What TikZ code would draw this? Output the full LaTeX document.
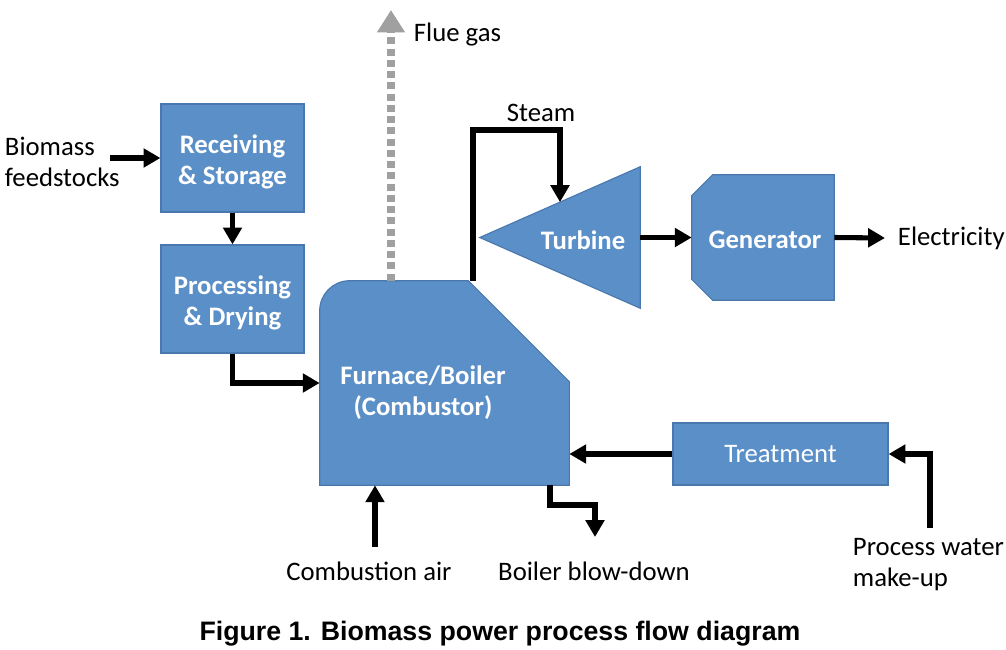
\documentclass[tikz,border=0pt]{standalone}
\usepackage{fontspec}
\setmainfont{Carlito}
\newfontfamily\capfont{Liberation Sans}
\usetikzlibrary{arrows.meta,calc}
\definecolor{unitblue}{HTML}{5B8FC8}
\definecolor{unitedge}{HTML}{4A78AE}
\definecolor{fluegray}{HTML}{A0A0A0}

\begin{document}
\begin{tikzpicture}[x=0.025cm,y=-0.025cm,
    font=\fontsize{19}{22}\selectfont,
    unit/.style={fill=unitblue,draw=unitedge,line width=0.8pt},
    box/.style={unit,text=white,align=center},
    lbl/.style={text=white,align=center,font=\fontsize{19}{22}\selectfont\bfseries},
    frame/.style={inner sep=0pt},
    flow/.style={line width=3.6pt,-{Triangle[length=12pt,width=13pt]}},
    flue/.style={fluegray,line width=5pt,dash pattern=on 5pt off 3pt,
        -{Triangle[length=16pt,width=19pt]}}]
    \useasboundingbox (0,0) rectangle (1006,650);

    % feed line
    \node[box,minimum width=3.575cm,minimum height=2.7cm] (recv) at (232.5,158) {};
    \node[lbl] (recvtext) at (232.5,162) {Receiving\\\& Storage};
    \node[box,minimum width=3.575cm,minimum height=2.7cm] (proc) at (232.5,299) {};
    \node[lbl] (proctext) at (232.5,303) {Processing\\\& Drying};

    % furnace
    \node[frame,minimum width=6.225cm,minimum height=5.1cm] (furnace) at (444.5,383) {};
    \filldraw[unit] (furnace.south west) [rounded corners=0.75cm] -- (furnace.north west)
        [sharp corners] -- ([xshift=-2.525cm]furnace.north east)
        -- ([yshift=-2.525cm]furnace.north east) -- (furnace.south east) -- cycle;
    \node[lbl] (furnacetext) at (423,393) {Furnace/Boiler\\(Combustor)};

    % turbine and generator
    \node[frame,minimum width=4cm,minimum height=3.525cm] (turbine) at (560,237.5) {};
    \filldraw[unit] (turbine.west) -- (turbine.north east) -- (turbine.south east) -- cycle;
    \node[lbl] (turbinetext) at (583,240) {Turbine};
    \node[frame,minimum width=3.55cm,minimum height=3.125cm] (gen) at (763,237.5) {};
    \filldraw[unit] ([xshift=0.525cm]gen.north west) -- (gen.north east) -- (gen.south east)
        -- ([xshift=0.525cm]gen.south west) -- ([yshift=0.525cm]gen.south west)
        -- ([yshift=-0.525cm]gen.north west) -- cycle;
    \node[lbl] (gentext) at (765,240) {Generator};

    \node[box,minimum width=5.375cm,minimum height=1.55cm] (treat) at (780.5,454) {Treatment};

    % texts
    \node[anchor=west,align=left] (biomass) at (0,162) {Biomass\\feedstocks};
    \node[anchor=west] (flue) at (409,35) {Flue gas};
    \node (steam) at (541,113) {Steam};
    \node[anchor=west] (elec) at (893,238) {Electricity};
    \node (air) at (369,571) {Combustion air};
    \node (blow) at (594,571) {Boiler blow-down};
    \node[anchor=west,align=left] (watertext) at (848,565) {Process water\\make-up};
    \node[font=\capfont\fontsize{19}{22}\selectfont\bfseries] (caption) at (500,634)
        {Figure 1. Biomass power process flow diagram};

    % connectors
    \coordinate (feedin) at (110,158);
    \coordinate (fluetop) at (391,10);
    \coordinate (steamtop) at (473,130);
    \coordinate (steamin) at ($(turbine.west)!0.5!(turbine.north east)$);
    \coordinate (makeup) at (930,528);
    \coordinate (airin) at (375,547);
    \coordinate (blowbend) at (550,505);
    \coordinate (blowend) at (595,537);

    \draw[flow] (feedin) -- (recv.west);
    \draw[flow] (recv) -- (proc);
    \draw[flow] (proc.south) |- (furnace.west);
    \draw[flue] (fluetop |- furnace.north) -- (fluetop);
    \draw[flow] (steamtop |- furnace.north) -- (steamtop) -| (steamin);
    \draw[flow] (turbine.east) -- (gen.west);
    \draw[flow] (gen.east) -- ([xshift=-0.2cm]elec.west);
    \draw[flow] (treat.west) -- (furnace.east |- treat.west);
    \draw[flow] (makeup) |- (treat.east);
    \draw[flow] (airin) -- (airin |- furnace.south);
    \draw[flow] (blowbend |- furnace.south) -- (blowbend) -| (blowend);
\end{tikzpicture}
\end{document}
